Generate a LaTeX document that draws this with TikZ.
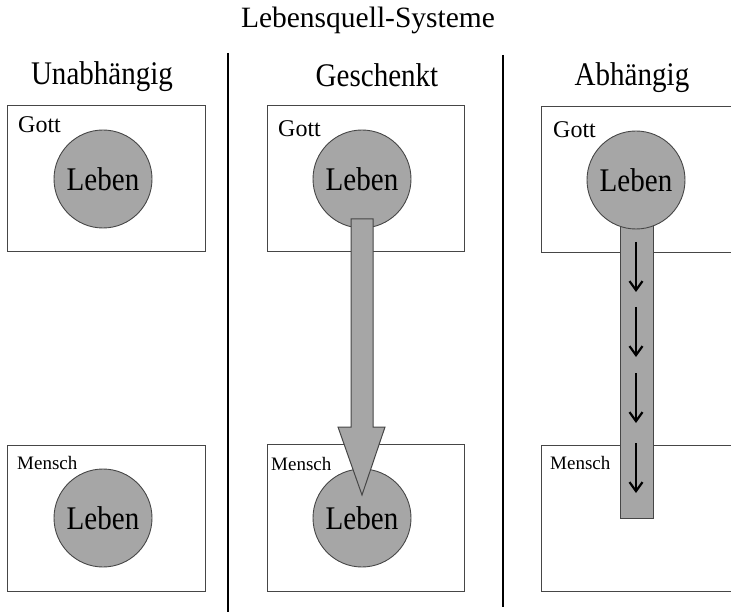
\documentclass[tikz,border=0pt]{standalone}
\usepackage{fontspec}
\setmainfont{Liberation Serif}
\newfontfamily\narrowfont[FakeStretch=0.88]{Liberation Serif}
\usetikzlibrary{arrows.meta,calc}
\definecolor{lifegray}{RGB}{166,166,166}
\definecolor{edgegray}{RGB}{70,70,70}
\tikzset{
  realm/.style={draw=edgegray, line width=1pt},
  life/.style={circle, draw=edgegray, fill=lifegray, line width=0.9pt, minimum size=98pt, inner sep=0pt, font=\narrowfont\fontsize{33}{36}\selectfont},
  header/.style={anchor=base, inner sep=0pt, font=\narrowfont\fontsize{33}{36}\selectfont},
  god/.style={anchor=base west, inner sep=0pt, font=\fontsize{24}{26}\selectfont},
  man/.style={anchor=base west, inner sep=0pt, font=\fontsize{19}{21}\selectfont},
  divider/.style={line width=2.6pt},
  flow/.style={line width=2.2pt, -{Straight Barb[length=9pt,width=13pt]}},
}
\begin{document}
\begin{tikzpicture}[x=1pt, y=-1pt]
    \useasboundingbox (0,0) rectangle (731,612);
    \node[anchor=base, inner sep=0pt, font=\fontsize{29.5}{32}\selectfont] (title) at (368,28) {Lebensquell-Systeme};
    \node[header] (headU) at (102,85) {Unabhängig};
    \node[header] (headG) at (377,87) {Geschenkt};
    \node[header] (headA) at (632,86) {Abhängig};
    \draw[divider] (228,53) -- (228,612);
    \draw[divider] (503,55) -- (503,607);

    % Unabhaengig
    \draw[realm] (7,106) rectangle (205,252);
    \draw[realm] (7,445) rectangle (205,591);
    \node[god] (godU) at (18,133) {Gott};
    \node[man] (manU) at (17,469) {Mensch};
    \node[life] (lifeUg) at (103,179) {Leben};
    \node[life] (lifeUm) at (103,518) {Leben};

    % Geschenkt
    \draw[realm] (267,106) rectangle (464,252);
    \draw[realm] (267,444) rectangle (464,591);
    \node[god] (godG) at (278,137) {Gott};
    \node[man] (manG) at (271,470) {Mensch};
    \node[life] (lifeGg) at (362,179) {Leben};
    \node[life] (lifeGm) at (362,518) {Leben};
    \coordinate (gs) at ($(lifeGg.center)+(0,40)$);
    \coordinate (gt) at ($(lifeGm.center)+(0,-23)$);
    \draw[realm, fill=lifegray] ($(gs)+(-11,0)$) -- ($(gt)+(-11,-68)$) -- ($(gt)+(-24,-68)$)
        -- (gt) -- ($(gt)+(23,-68)$) -- ($(gt)+(11,-68)$) -- ($(gs)+(11,0)$) -- cycle;

    % Abhaengig
    \draw[realm] (541,107) rectangle (735,253);
    \draw[realm] (541,445) rectangle (735,591);
    \node[god] (godA) at (553,138) {Gott};
    \node[man] (manA) at (550,469) {Mensch};
    \draw[realm, fill=lifegray] (620,200) rectangle (653,518);
    \node[life] (lifeAg) at (636,180) {Leben};
    \foreach \y in {242,307,373,443}
        \draw[flow] (636,\y) -- (636,\y+50);
\end{tikzpicture}
\end{document}
